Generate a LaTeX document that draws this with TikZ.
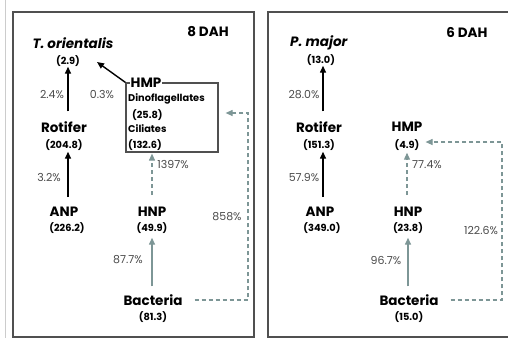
\documentclass[tikz,border=0pt]{standalone}
\usepackage{fontspec}
\setmainfont{Poppins}
\usetikzlibrary{arrows.meta}
\definecolor{flowgray}{HTML}{7D9696}
\definecolor{labgray}{HTML}{4A4A4A}
\definecolor{framegray}{HTML}{505050}
\begin{document}
\begin{tikzpicture}[x=1pt, y=-1pt, >={Triangle[length=7pt, width=6pt]},
    taxon/.style={font=\bfseries\fontsize{13.5}{15}\selectfont, inner sep=0pt},
    amount/.style={font=\bfseries\fontsize{9.8}{11}\selectfont, inner sep=0pt},
    pct/.style={font=\fontsize{11}{12}\selectfont, text=labgray, inner sep=0pt},
    feed/.style={->, line width=1.4pt, black},
    bactfeed/.style={->, line width=1.4pt, flowgray},
    loopfeed/.style={->, line width=1.1pt, flowgray, dash pattern=on 4pt off 3pt}]

    \useasboundingbox (0,0) rectangle (508,338);
    \clip (0,0) rectangle (508,338);

    % Panel frames
    \draw[gray!40, line width=0.8pt] (5,0) -- (5,338);
    \draw[framegray, line width=1.6pt] (13,12) rectangle (254,337);
    \draw[framegray, line width=1.6pt] (268,12) rectangle (520,337);

    % ---------- 8 DAH ----------
    \node[taxon] (day8) at (208,32) {8 DAH};

    \node[taxon] (tori) at (73,43) {\textit{T. orientalis}};
    \node[amount] (toriv) at (68,61) {(2.9)};
    \node[taxon] (rot8) at (64,127) {Rotifer};
    \node[amount] (rot8v) at (64,145) {(204.8)};
    \node[taxon] (anp8) at (64,212) {ANP};
    \node[amount] (anp8v) at (67,228) {(226.2)};
    \node[taxon] (hnp8) at (152,212) {HNP};
    \node[amount] (hnp8v) at (152,228) {(49.9)};
    \node[taxon] (bac8) at (153,300) {Bacteria};
    \node[amount] (bac8v) at (153,317) {(81.3)};

    % HMP box
    \node[draw=framegray, line width=1.2pt, minimum width=92pt, minimum height=69pt,
          inner sep=0pt] (hmpbox) at (172,117.5) {};
    \node[taxon, fill=white, inner xsep=1pt] (hmp8) at (146,83) {HMP};
    \node[amount, anchor=west] (dino) at (128,99) {Dinoflagellates};
    \node[amount, anchor=west] (dinov) at (132,115) {(25.8)};
    \node[amount, anchor=west] (cili) at (128,129) {Ciliates};
    \node[amount, anchor=west] (civ) at (128,145) {(132.6)};

    % percentages
    \node[pct] (p24) at (52,95) {2.4\%};
    \node[pct] (p03) at (102,95) {0.3\%};
    \node[pct] (p32) at (49,178) {3.2\%};
    \node[pct] (p1397) at (173,165) {1397\%};
    \node[pct] (p877) at (128,260) {87.7\%};
    \node[pct] (p858) at (227,217) {858\%};

    \coordinate (oritip) at (97,62);
    \coordinate (loop8) at (248,113);

    \draw[feed, shorten <=10pt] (rot8.north -| toriv) -- (toriv.south);
    \draw[feed, shorten <=10pt, shorten >=1pt] (anp8.north -| toriv) -- (rot8v.south -| toriv);
    \draw[feed] (hmpbox.north west) -- (oritip);
    \draw[loopfeed, shorten <=12pt, shorten >=1pt] (hnp8.north) -- (hnp8.north |- hmpbox.south);
    \draw[bactfeed, shorten <=8pt, shorten >=4pt] (bac8.north -| hnp8v) -- (hnp8v.south);
    \draw[loopfeed, shorten <=12pt, shorten >=7pt] (bac8.east) -| (loop8) -- (loop8 -| hmpbox.east);

    % ---------- 6 DAH ----------
    \node[taxon] (day6) at (467,32) {6 DAH};

    \node[taxon] (pmaj) at (319,43) {\textit{P. major}};
    \node[amount] (pmajv) at (321,60) {(13.0)};
    \node[taxon] (rot6) at (319,127) {Rotifer};
    \node[amount] (rot6v) at (319,145) {(151.3)};
    \node[taxon] (hmp6) at (407,127) {HMP};
    \node[amount] (hmp6v) at (407,145) {(4.9)};
    \node[taxon] (anp6) at (320,212) {ANP};
    \node[amount] (anp6v) at (322,228) {(349.0)};
    \node[taxon] (hnp6) at (408,212) {HNP};
    \node[amount] (hnp6v) at (408,228) {(23.8)};
    \node[taxon] (bac6) at (409,300) {Bacteria};
    \node[amount] (bac6v) at (409,317) {(15.0)};

    \node[pct] (p280) at (304,95) {28.0\%};
    \node[pct] (p579) at (304,178) {57.9\%};
    \node[pct] (p774) at (427,165) {77.4\%};
    \node[pct] (p967) at (386,260) {96.7\%};
    \node[pct] (p1226) at (481,230) {122.6\%};

    \coordinate (loop6) at (502,142);

    \draw[feed, shorten <=10pt] (rot6.north -| 323,0) -- (pmajv.south -| 323,0);
    \draw[feed, shorten <=10pt, shorten >=1pt] (anp6.north -| 323,0) -- (rot6v.south -| 323,0);
    \draw[loopfeed, shorten <=12pt, shorten >=2pt] (hnp6.north -| hmp6v) -- (hmp6v.south);
    \draw[bactfeed, shorten <=8pt, shorten >=4pt] (bac6.north -| hnp6v) -- (hnp6v.south);
    \draw[loopfeed, shorten <=12pt, shorten >=6pt] (bac6.east) -| (loop6) -- (hmp6v.east |- loop6);

\end{tikzpicture}
\end{document}
